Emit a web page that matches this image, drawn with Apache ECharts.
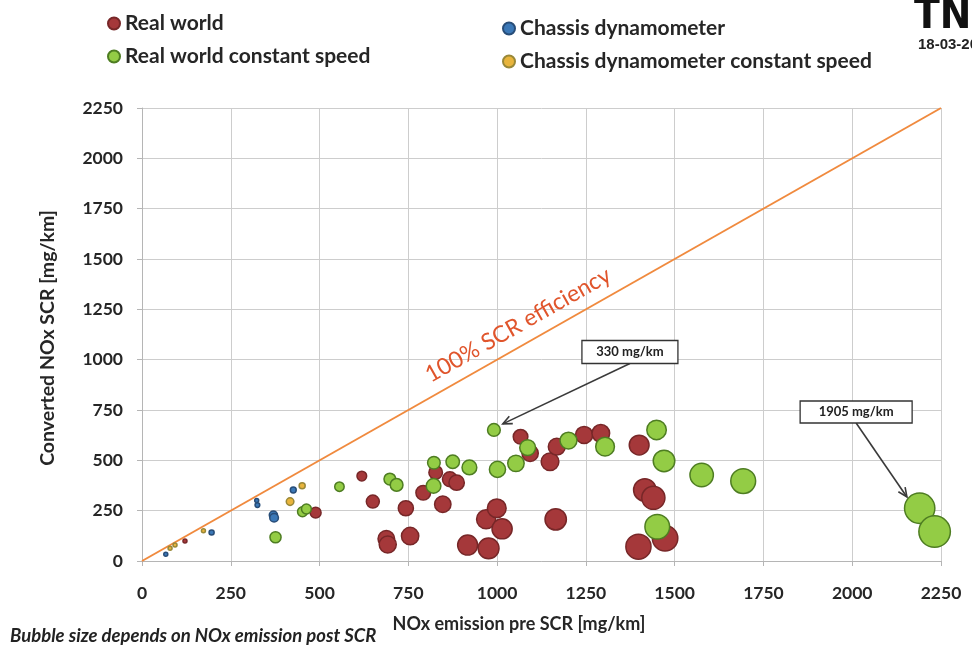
<!DOCTYPE html>
<html><head><meta charset="utf-8">
<script src="https://cdn.jsdelivr.net/npm/echarts@6/dist/echarts.min.js"></script>
<style>html,body{margin:0;padding:0;background:#fff}#c{width:972px;height:647px}</style>
</head><body><div id="c"></div>
<script>
// ---- data (NOx pre SCR [mg/km], converted NOx [mg/km]) ----
const realWorldX = [121, 489, 619, 650, 688, 692, 743, 755, 792, 827, 847, 867, 886, 917, 976, 969, 999, 1014, 1066, 1093, 1149, 1168, 1165, 1245, 1292, 1400, 1416, 1440, 1398, 1473];
const realWorldY = [99, 240, 422, 295, 110, 82, 262, 124, 339, 440, 282, 406, 389, 79, 63, 207, 262, 160, 617, 535, 493, 568, 207, 626, 634, 576, 353, 314, 71, 113];
const rwConstX = [376, 452, 463, 556, 698, 717, 821, 822, 875, 922, 991, 1001, 1053, 1086, 1201, 1304, 1449, 1470, 1451, 1576, 1693, 2190, 2232];
const rwConstY = [118, 245, 258, 369, 407, 378, 373, 488, 493, 465, 651, 455, 485, 563, 598, 568, 651, 497, 170, 427, 397, 262, 146];
const chassisX = [67, 196, 323, 325, 370, 372, 426];
const chassisY = [33, 142, 300, 278, 228, 215, 353];
const chassisConstX = [79, 93, 173, 417, 451];
const chassisConstY = [63, 79, 150, 295, 374];
const efficiencyLine = [[0, 0], [2250, 2250]];
const seriesNames = ['Real world', 'Real world constant speed', 'Chassis dynamometer', 'Chassis dynamometer constant speed'];
const axisMin = 0, axisMax = 2250, axisStep = 250;
const annotations = [
  {text: '330 mg/km', box: [1374, 1038], tip: [1016, 681], w: 96, h: 23},
  {text: '1905 mg/km', box: [2011, 740], tip: [2154, 318], w: 112, h: 22}
];
const lineLabel = {text: '100% SCR efficiency', at: [1059, 1172]};

const FONT = 'Lato';
const zip = (xs, ys) => xs.map((x, i) => [x, ys[i]]);
// bubble area proportional to NOx emission post SCR (= pre - converted)
const bubble = v => Math.max(4, 0.69 * Math.sqrt(Math.max(v[0] - v[1], 0)));

const styles = [
  {fill: '#A5383A', border: '#772728'},
  {fill: '#93CC45', border: '#4E7D22'},
  {fill: '#3B78B7', border: '#284D78'},
  {fill: '#E8B43C', border: '#998838'}
];
const dataSets = [zip(realWorldX, realWorldY), zip(rwConstX, rwConstY), zip(chassisX, chassisY), zip(chassisConstX, chassisConstY)];

const chart = echarts.init(document.getElementById('c'), null, {renderer: 'canvas'});
const axisCommon = {
  type: 'value', min: axisMin, max: axisMax, interval: axisStep,
  axisLine: {show: true, lineStyle: {color: '#b5b5b5', width: 1}},
  axisTick: {show: true, length: 5, lineStyle: {color: '#b5b5b5'}},
  splitLine: {show: true, lineStyle: {color: '#cdcdcd', width: 1}},
  axisLabel: {color: '#262626', fontFamily: FONT, fontWeight: 'bold', fontSize: 17.5, formatter: v => String(v)}
};
const legendText = {fontFamily: FONT, fontWeight: 'bold', fontSize: 21, color: '#262626'};
const option = {
  backgroundColor: '#ffffff',
  animation: false,
  grid: {left: 142, right: 31, top: 108, bottom: 86, containLabel: false},
  xAxis: Object.assign({}, axisCommon, {axisLabel: Object.assign({}, axisCommon.axisLabel, {margin: 23})}),
  yAxis: Object.assign({}, axisCommon, {axisLabel: Object.assign({}, axisCommon.axisLabel, {margin: 19})}),
  legend: [
    {data: seriesNames.slice(0, 2), orient: 'vertical', left: 107, top: 13, padding: 0, itemGap: 12, itemWidth: 12, itemHeight: 12,
     icon: 'circle', textStyle: legendText},
    {data: seriesNames.slice(2, 4), orient: 'vertical', left: 502, top: 18, padding: 0, itemGap: 12, itemWidth: 12, itemHeight: 12,
     icon: 'circle', textStyle: legendText}
  ],
  series: [
    {type: 'line', name: 'efficiency', data: efficiencyLine, symbol: 'none', z: 1,
     lineStyle: {color: '#F08A3E', width: 2}, silent: true}
  ].concat(dataSets.map((d, i) => ({
    type: 'scatter', name: seriesNames[i], data: d, z: 3,
    symbol: 'circle', symbolSize: bubble,
    itemStyle: {color: styles[i].fill, borderColor: styles[i].border, borderWidth: 1.5, opacity: 1}
  })))
};
chart.setOption(option);

// ---- annotations positioned from data coordinates ----
const P = v => chart.convertToPixel({gridIndex: 0}, v);
const g = [];
annotations.forEach(a => {
  const c = P(a.box), t = P(a.tip);
  const s = [c[0], c[1] + a.h / 2];
  g.push({type: 'line', shape: {x1: s[0], y1: s[1], x2: t[0], y2: t[1]}, style: {stroke: '#3a3a3a', lineWidth: 1.6}, z: 20});
  const ang = Math.atan2(t[1] - s[1], t[0] - s[0]);
  const L = 10, sp = 0.42;
  g.push({type: 'polyline', shape: {points: [
    [t[0] - L * Math.cos(ang - sp), t[1] - L * Math.sin(ang - sp)], [t[0], t[1]],
    [t[0] - L * Math.cos(ang + sp), t[1] - L * Math.sin(ang + sp)]]},
    style: {stroke: '#3a3a3a', lineWidth: 1.6, fill: null}, z: 20});
  g.push({type: 'rect', shape: {x: c[0] - a.w / 2, y: c[1] - a.h / 2, width: a.w, height: a.h},
    style: {fill: '#fff', stroke: '#333', lineWidth: 1.3}, z: 21});
  g.push({type: 'text', x: c[0], y: c[1], z: 22,
    style: {text: a.text, fill: '#222', font: 'bold 13px ' + FONT, align: 'center', verticalAlign: 'middle'}});
});
const p0 = P(efficiencyLine[0]), p1 = P(efficiencyLine[1]);
const rot = Math.atan2(p0[1] - p1[1], p1[0] - p0[0]);
const lp = P(lineLabel.at);
g.push({type: 'text', x: lp[0], y: lp[1], rotation: rot, z: 15,
  style: {text: lineLabel.text, fill: '#E0552C', font: '23px ' + FONT, align: 'center', verticalAlign: 'middle'}});
// axis titles and notes
g.push({type: 'text', x: 48, y: 338, rotation: Math.PI / 2, z: 10,
  style: {text: 'Converted NOx SCR [mg/km]', fill: '#262626', font: 'bold 19.5px ' + FONT, align: 'center', verticalAlign: 'middle'}});
g.push({type: 'text', x: 519, y: 624, z: 10,
  style: {text: 'NOx emission pre SCR [mg/km]', fill: '#262626', font: 'bold 18px ' + FONT, align: 'center', verticalAlign: 'middle'}});
g.push({type: 'text', x: 10, y: 636, z: 10,
  style: {text: 'Bubble size depends on NOx emission post SCR', fill: '#222', font: 'italic bold 18.5px ' + FONT, align: 'left', verticalAlign: 'middle'}});
g.push({type: 'text', x: 914, y: -4, z: 10,
  style: {text: 'TNO', fill: '#111', font: '900 42px "DejaVu Sans Condensed", "DejaVu Sans"', align: 'left', verticalAlign: 'top'}});
g.push({type: 'text', x: 918, y: 45, z: 10,
  style: {text: '18-03-2018', fill: '#222', font: 'bold 15px "Liberation Sans"', align: 'left', verticalAlign: 'middle'}});
chart.setOption({graphic: g});
</script>
</body></html>
